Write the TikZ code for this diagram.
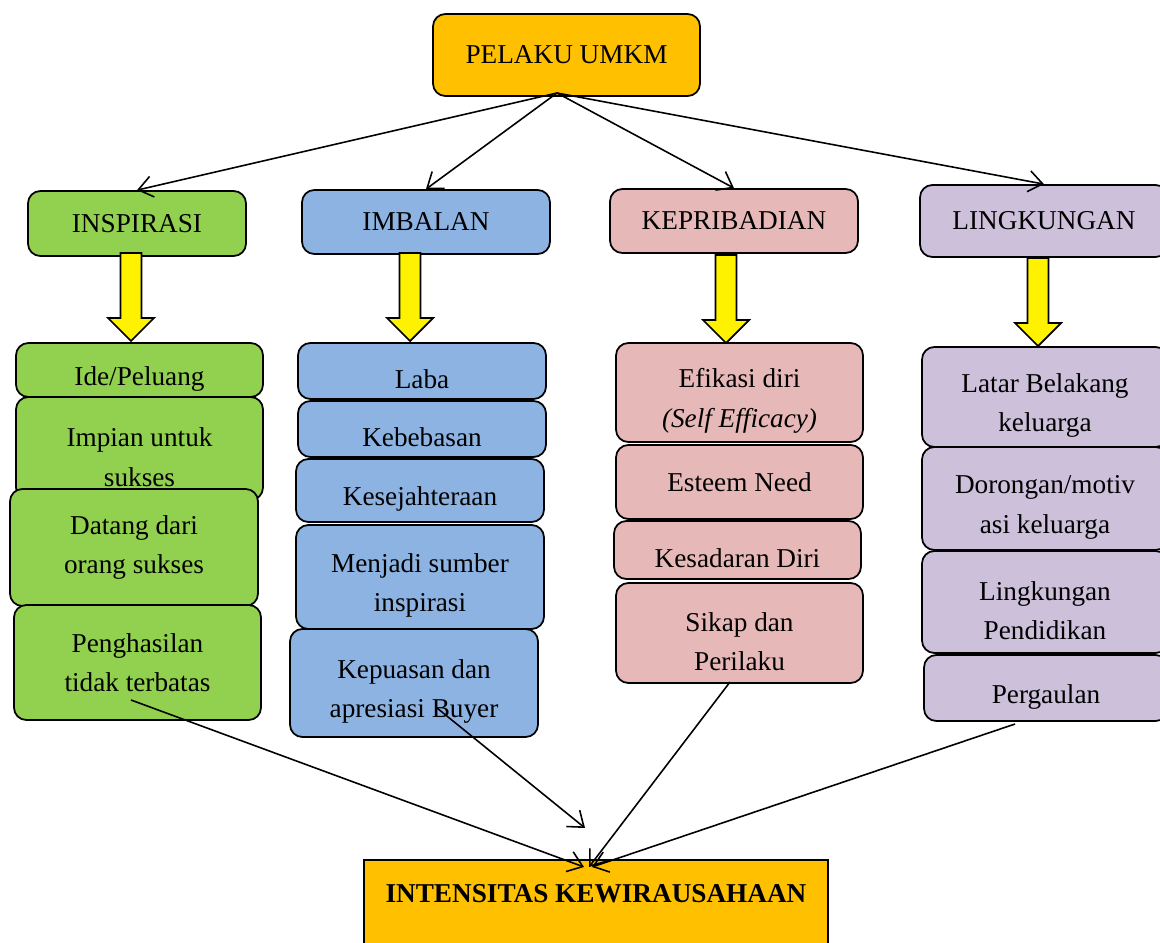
\documentclass[tikz,border=0pt]{standalone}
\usepackage{fontspec}
\setmainfont{Liberation Serif}
\usetikzlibrary{arrows.meta}
\definecolor{orng}{HTML}{FFC000}
\definecolor{grn}{HTML}{92D050}
\definecolor{blu}{HTML}{8DB3E2}
\definecolor{pnk}{HTML}{E6B9B8}
\definecolor{lav}{HTML}{CCC0DA}
\newcommand{\lo}{\rule{0pt}{20.5pt}}

\begin{document}
\begin{tikzpicture}[>={Straight Barb[length=8pt,width=12pt]}, x=0.02cm, y=-0.02cm, every node/.style={font=\fontsize{15.5}{22.5}\selectfont}]
\tikzstyle{b}=[rectangle,rounded corners=7pt,draw,line width=1pt,align=center,inner sep=2pt]
\tikzstyle{ya}=[draw,fill=yellow,line width=1pt]
\tikzstyle{c}=[->,line width=0.9pt]
\clip (0,0) rectangle (1160,943);
\node[b,fill=orng,minimum width=5.34cm,minimum height=1.64cm] (umkm) at (566.5,55) {PELAKU UMKM};
\node[b,fill=grn,minimum width=4.36cm,minimum height=1.30cm] (insp) at (137,223.5) {INSPIRASI};
\node[b,fill=blu,minimum width=4.96cm,minimum height=1.28cm] (imb) at (426,222) {IMBALAN};
\node[b,fill=pnk,minimum width=4.96cm,minimum height=1.28cm] (kep) at (734,221) {KEPRIBADIAN};
\node[b,fill=lav,minimum width=4.96cm,minimum height=1.44cm] (ling) at (1044,221) {LINGKUNGAN};
\foreach \a/\b in {131/253,410/253,726/255,1038/258}
  \filldraw[ya] (\a-10.5,\b) -- (\a+10.5,\b) -- (\a+10.5,\b+65) -- (\a+23,\b+65) -- (\a,\b+88) -- (\a-23,\b+65) -- (\a-10.5,\b+65) -- cycle;
\node[b,fill=grn,minimum width=4.94cm,minimum height=1.08cm] (ide) at (139.5,370) {\lo Ide/Peluang};
\node[b,fill=grn,minimum width=4.94cm,minimum height=2.06cm] (imp) at (139.5,448.5) {\lo Impian untuk\\sukses};
\node[b,fill=grn,minimum width=4.96cm,minimum height=2.34cm] (dat) at (134,547.5) {Datang dari\\orang sukses};
\node[b,fill=grn,minimum width=4.94cm,minimum height=2.30cm] (pgh) at (137.5,662.5) {Penghasilan\\tidak terbatas};
\node[b,fill=blu,minimum width=4.96cm,minimum height=1.12cm] (laba) at (422,371) {\lo Laba};
\node[b,fill=blu,minimum width=4.96cm,minimum height=1.12cm] (bebas) at (422,429) {\lo Kebebasan};
\node[b,fill=blu,minimum width=4.96cm,minimum height=1.26cm] (sejah) at (420,490.5) {\lo Kesejahteraan};
\node[b,fill=blu,minimum width=4.96cm,minimum height=2.08cm] (sumber) at (420,577) {\lo Menjadi sumber\\inspirasi};
\node[b,fill=blu,minimum width=4.96cm,minimum height=2.16cm] (puas) at (414,683) {\lo Kepuasan dan\\apresiasi Buyer};
\node[b,fill=pnk,minimum width=4.94cm,minimum height=1.98cm] (efik) at (739.5,392.5) {\lo Efikasi diri\\\textit{(Self Efficacy)}};
\node[b,fill=pnk,minimum width=4.94cm,minimum height=1.48cm] (est) at (739.5,482) {Esteem Need};
\node[b,fill=pnk,minimum width=4.94cm,minimum height=1.16cm] (sadar) at (737.5,550) {\lo Kesadaran Diri};
\node[b,fill=pnk,minimum width=4.94cm,minimum height=2.00cm] (sikap) at (739.5,633) {\lo Sikap dan\\Perilaku};
\node[b,fill=lav,minimum width=4.92cm,minimum height=2.00cm] (latar) at (1045,397) {\lo Latar Belakang\\keluarga};
\node[b,fill=lav,minimum width=4.92cm,minimum height=2.06cm] (dorong) at (1045,498.5) {\lo Dorongan/motiv\\asi keluarga};
\node[b,fill=lav,minimum width=4.92cm,minimum height=2.04cm] (lingp) at (1045,602) {\lo Lingkungan\\Pendidikan};
\node[b,fill=lav,minimum width=4.88cm,minimum height=1.32cm] (gaul) at (1046,688) {\lo Pergaulan};
\node[draw,line width=1pt,fill=orng,anchor=north,minimum width=9.28cm,text height=0.76cm,text depth=1.3cm,inner ysep=0.1cm,font=\fontsize{15.5}{22.5}\selectfont\bfseries] (intens) at (596,859) {INTENSITAS KEWIRAUSAHAAN};
\coordinate (o) at (557,93);
\coordinate (q1) at (131,700);
\coordinate (q2) at (437,708);
\coordinate (q3) at (730,682);
\coordinate (q4) at (1015,724);
\coordinate (m1) at (584,867);
\coordinate (m2) at (585,828);
\coordinate (m3) at (589,867);
\coordinate (m4) at (592,867);
\draw[c] (o) -- (insp.north);
\draw[c] (o) -- (imb.north);
\draw[c] (o) -- (kep.north);
\draw[c] (o) -- (ling.north);
\draw[c] (q1) -- (m1);
\draw[c] (q2) -- (m2);
\draw[c] (q3) -- (m3);
\draw[c] (q4) -- (m4);
\end{tikzpicture}
\end{document}
